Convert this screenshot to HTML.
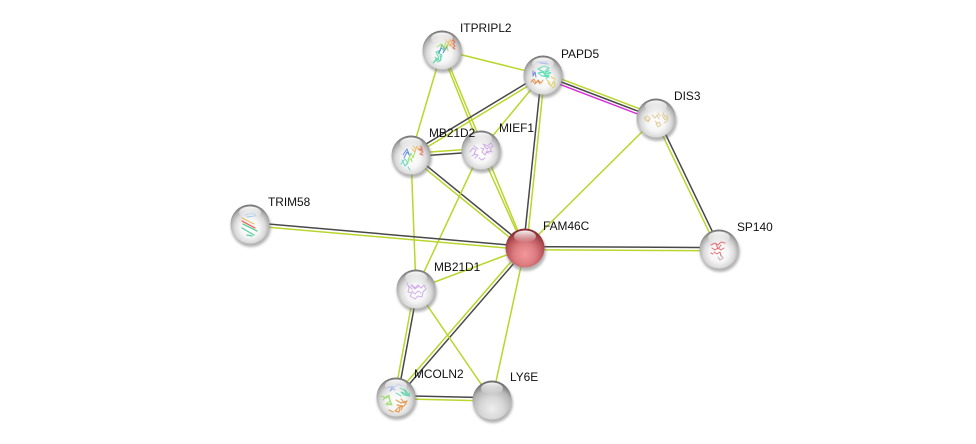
<!DOCTYPE html>
<html><head><meta charset="utf-8"><style>
html,body{margin:0;padding:0;background:#fff;width:976px;height:444px;overflow:hidden}
svg{display:block}
text{font-family:"Liberation Sans",sans-serif;font-size:11.9px;fill:#111}
.y{stroke:#b9d62c;stroke-width:1.5;fill:none}
.d{stroke:#484848;stroke-width:1.5;fill:none}
.m{stroke:#d92bd9;stroke-width:1.5;fill:none}
.p{fill:none;stroke-width:1;stroke-linecap:round;stroke-linejoin:round;opacity:.85}
</style></head><body>
<svg width="976" height="444" viewBox="0 0 976 444" xmlns="http://www.w3.org/2000/svg">
<defs>
<radialGradient id="g" cx="50%" cy="60%" r="60%">
<stop offset="0" stop-color="#fff"/><stop offset=".4" stop-color="#f5f5f5"/><stop offset=".65" stop-color="#dadada"/><stop offset=".85" stop-color="#ababab"/><stop offset="1" stop-color="#6a6a6a"/>
</radialGradient>
<radialGradient id="r" cx="50%" cy="66%" r="62%">
<stop offset="0" stop-color="#f5989b"/><stop offset=".45" stop-color="#dc7c80"/><stop offset=".75" stop-color="#b9565b"/><stop offset="1" stop-color="#8a2f36"/>
</radialGradient>
<radialGradient id="e" cx="50%" cy="72%" r="68%">
<stop offset="0" stop-color="#eeeeee"/><stop offset=".45" stop-color="#d6d6d6"/><stop offset=".75" stop-color="#b6b6b6"/><stop offset="1" stop-color="#707070"/>
</radialGradient>
<linearGradient id="h" x1="0" y1="0" x2="0" y2="1"><stop offset="0" stop-color="#fff" stop-opacity=".95"/><stop offset="1" stop-color="#fff" stop-opacity="0"/></linearGradient>
<filter id="b" x="-30%" y="-30%" width="160%" height="160%"><feGaussianBlur stdDeviation="1.4"/></filter>
<g id="shadow"><ellipse cx="1" cy="3" rx="20" ry="20" fill="#777" opacity=".55" filter="url(#b)"/></g>
<g id="hl"><ellipse cx="0" cy="-11.500" rx="11" ry="6" fill="url(#h)"/></g>
</defs>

<!-- edges -->
<line class="y" x1="442" y1="50" x2="543" y2="75"/>
<line class="y" x1="442" y1="50" x2="411" y2="155"/>
<line class="y" x1="441" y1="50" x2="481" y2="150"/>
<line class="y" x1="443" y1="50" x2="525" y2="248"/>

<line class="y" x1="544" y1="72.400" x2="657" y2="115.400"/>
<line class="d" x1="543" y1="75" x2="656" y2="118"/>
<line class="m" x1="542" y1="77.600" x2="655" y2="120.600"/>

<line class="d" x1="542.170" y1="73.630" x2="410.170" y2="153.630"/>
<line class="y" x1="543.830" y1="76.370" x2="411.830" y2="156.370"/>
<line class="y" x1="543" y1="75" x2="481" y2="150"/>
<line class="d" x1="541.400" y1="75" x2="523.400" y2="248"/>
<line class="y" x1="544.600" y1="75" x2="526.600" y2="248"/>

<line class="y" x1="656" y1="118" x2="525" y2="248"/>
<line class="d" x1="657.440" y1="117.310" x2="720.440" y2="248.310"/>
<line class="y" x1="654.560" y1="118.690" x2="717.560" y2="249.690"/>

<line class="y" x1="411" y1="153.400" x2="481" y2="148.400"/>
<line class="d" x1="411" y1="156.600" x2="481" y2="151.600"/>
<line class="d" x1="412" y1="153.770" x2="526" y2="246.770"/>
<line class="y" x1="410" y1="156.230" x2="524" y2="249.230"/>
<line class="y" x1="411" y1="155" x2="416" y2="289"/>

<line class="y" x1="480" y1="150" x2="524" y2="248"/>
<line class="y" x1="481" y1="150" x2="416" y2="289"/>

<line class="d" x1="250" y1="222.400" x2="525" y2="246.400"/>
<line class="y" x1="250" y1="225.600" x2="525" y2="249.600"/>
<line class="d" x1="525" y1="246.600" x2="719" y2="247.600"/>
<line class="y" x1="525" y1="249.800" x2="719" y2="250.800"/>

<line class="y" x1="525" y1="248" x2="416" y2="289"/>
<line class="y" x1="523.960" y1="246.780" x2="394.960" y2="395.780"/>
<line class="d" x1="526.040" y1="249.220" x2="397.040" y2="398.220"/>
<line class="y" x1="525" y1="248" x2="492" y2="400"/>

<line class="y" x1="414.400" y1="289" x2="394.400" y2="397"/>
<line class="d" x1="417.600" y1="289" x2="397.600" y2="397"/>
<line class="y" x1="416" y1="289" x2="492" y2="400"/>
<line class="d" x1="396" y1="395.600" x2="492" y2="397.800"/>
<line class="y" x1="396" y1="398.800" x2="492" y2="401"/>

<!-- nodes -->
<g transform="translate(442,50)">
<use href="#shadow"/><circle r="19.500" fill="url(#g)"/>
<path class="p" stroke="#4fd0a0" d="M-9 13l4-5 3 3 2-6-4-2 3-3-5 2 3 6zM-7 7l3 5 3-2-1-5"/>
<path class="p" stroke="#4a7fe0" d="M-3 3l3-8 3 4-2 4 4-6M-1-2l3 2"/>
<path class="p" stroke="#8fdc50" d="M-5-3l5-3 2 6 3-5 1 6M-2-6l4 3 2-5"/>
<path class="p" stroke="#e8b048" d="M3-11l3 4 2-4 2 5-3 1 4 2M5-4l3-5"/>
<path class="p" stroke="#e8604a" d="M11-12v3l2 1-2 2 2 2-2 2 2 1M9-10l3 1"/>
<use href="#hl"/>
</g>
<g transform="translate(543,75)">
<use href="#shadow"/><circle r="19.500" fill="url(#g)"/>
<path class="p" stroke="#3fd8a8" d="M-5-6l6-3 5 2-4 3 6 2-7 1 5 3-7-1-4-3 6-1zM-3-3l5 1 4-3M0 1l6-1-3 4"/>
<path class="p" stroke="#5a70d8" d="M-10-4v5l2-4 1 5M-6-13h10M-3-12l8 1"/>
<path class="p" stroke="#e0823c" d="M-12 7l3-3 2 4 2-3 3 3 2-3M-11 5l3 4 3-3 2 3"/>
<path class="p" stroke="#dccb48" d="M5 8l3 3 3-5 1 5-3 2M8 2l4 2M4 5l3 3"/>
<use href="#hl"/>
</g>
<g transform="translate(656,118)">
<use href="#shadow"/><circle r="19.500" fill="url(#g)"/>
<path class="p" stroke="#dcc58a" d="M-12 1l3-3 3 2-2 3-3-1M-11-1l3 5 2-3M-4-3l3 3 2-3 2 4M6-3l3 5 3-3-1 4-3 2M7-5l2 4 3-2M0 6l3-2 2 3-3 2zM-1 3l3 3M2-5l2 3"/>
<use href="#hl"/>
</g>
<g transform="translate(411,155)">
<use href="#shadow"/><circle r="19.500" fill="url(#g)"/>
<path class="p" stroke="#4fd0c0" d="M-10 9l4-5 3 4-3 3M-3 12l2 3M-9 5l3 6 3-4"/>
<path class="p" stroke="#4a7fe0" d="M-8 0l4-6 2 5M-7 3l3-6 3 4"/>
<path class="p" stroke="#8fdc50" d="M-3 5l3-7 2 5 2-6M-4 8l4-5 1 4"/>
<path class="p" stroke="#e8b048" d="M1-6l3 3 2-6 2 4M2-9l3 3"/>
<path class="p" stroke="#e8604a" d="M9-9l2 2-2 2 3 2-3 2 3 1M8-6l4 1"/>
<use href="#hl"/>
</g>
<g transform="translate(481,150)">
<use href="#shadow"/><circle r="19.500" fill="url(#g)"/>
<path class="p" stroke="#c59be0" d="M-11 2l3-4 3 2-2 4 4 1-3 3M-7-4l4 3M2-6l4 2 4-3 2 3-3 3 2 3-5-1-2 4-3-3 2-3-3-1M-2 8l3 2 3-2M3-4l3 3 3-3M5 2l3 1M-9 6l3-2"/>
<use href="#hl"/>
</g>
<g transform="translate(250,224)">
<use href="#shadow"/><circle r="19.500" fill="url(#g)"/>
<path class="p" stroke="#8ab8e8" d="M-5-9l8-2 3 3M-3-7l7-1"/>
<path class="p" stroke="#e8b048" d="M-8-6l12 6"/>
<path class="p" stroke="#e8504a" style="stroke-width:1.300" d="M-8-3l13 7"/>
<path class="p" stroke="#3fc890" style="stroke-width:1.300" d="M-7 0l14 7M-8 4l12 7M-3 11l5 1"/>
<use href="#hl"/>
</g>
<g transform="translate(719,249)">
<use href="#shadow"/><circle r="19.500" fill="url(#g)"/>
<path class="p" stroke="#e0545a" d="M-8-4l4-2 3 2 3-3 4 1M-7-1l3 2 3-2 3 2 3-2M-5 3l3 2 3-2 1 4M-8 4l2 1M-3-5l2 5 3-4"/>
<path class="p" stroke="#b0a0a0" d="M-1 8l2 3 3-2M2 6l2 3"/>
<use href="#hl"/>
</g>
<g transform="translate(416,289)">
<use href="#shadow"/><circle r="19.500" fill="url(#g)"/>
<path class="p" stroke="#c9a2e4" d="M-9-6l2 5-1 4 4 1-2 3 5 3 3-3 4 1 1-5 3-3-2-4-3 3-3-3-3 3-3-3M-5-4l4 4 4-3M-4 2l3 3 3-3 3 2M-7-3l3 3"/>
<use href="#hl"/>
</g>
<g transform="translate(396,397)">
<use href="#shadow"/><circle r="19.500" fill="url(#g)"/>
<path class="p" stroke="#7a9ae0" d="M-9-9l6-2-3 5 8-7 4 2M-6-10l5 3"/>
<path class="p" stroke="#48d0a0" d="M4-9l6 3 4 5-6-1-3-3M0-4l5 3M8-8l3 6 3-2M5-5l5 2"/>
<path class="p" stroke="#90d858" d="M-15-1l5 2 3-3 1 6-4 3 6 1-2-5M-13 3l4-4 3 3M-9 8l4-2"/>
<path class="p" stroke="#e0903c" style="stroke-width:1.200" d="M0 3l5 3 6-2-3 5-4 1-1 5-4-1 4-4M5 2l5 5M-7 13l4 2M1 8l6 1-2 4"/>
<use href="#hl"/>
</g>
<g transform="translate(492,400)">
<use href="#shadow"/><circle r="19.500" fill="url(#e)"/>
<use href="#hl"/>
</g>
<g transform="translate(525,248)">
<use href="#shadow"/><circle r="19.500" fill="url(#r)"/>
<use href="#hl"/>
</g>

<!-- labels -->
<text x="460" y="32">ITPRIPL2</text>
<text x="561" y="58">PAPD5</text>
<text x="674" y="100">DIS3</text>
<text x="429" y="137">MB21D2</text>
<text x="499" y="132">MIEF1</text>
<text x="268" y="206">TRIM58</text>
<text x="543" y="230">FAM46C</text>
<text x="737" y="231">SP140</text>
<text x="434" y="271">MB21D1</text>
<text x="414" y="378">MCOLN2</text>
<text x="510" y="381">LY6E</text>
</svg>
</body></html>
